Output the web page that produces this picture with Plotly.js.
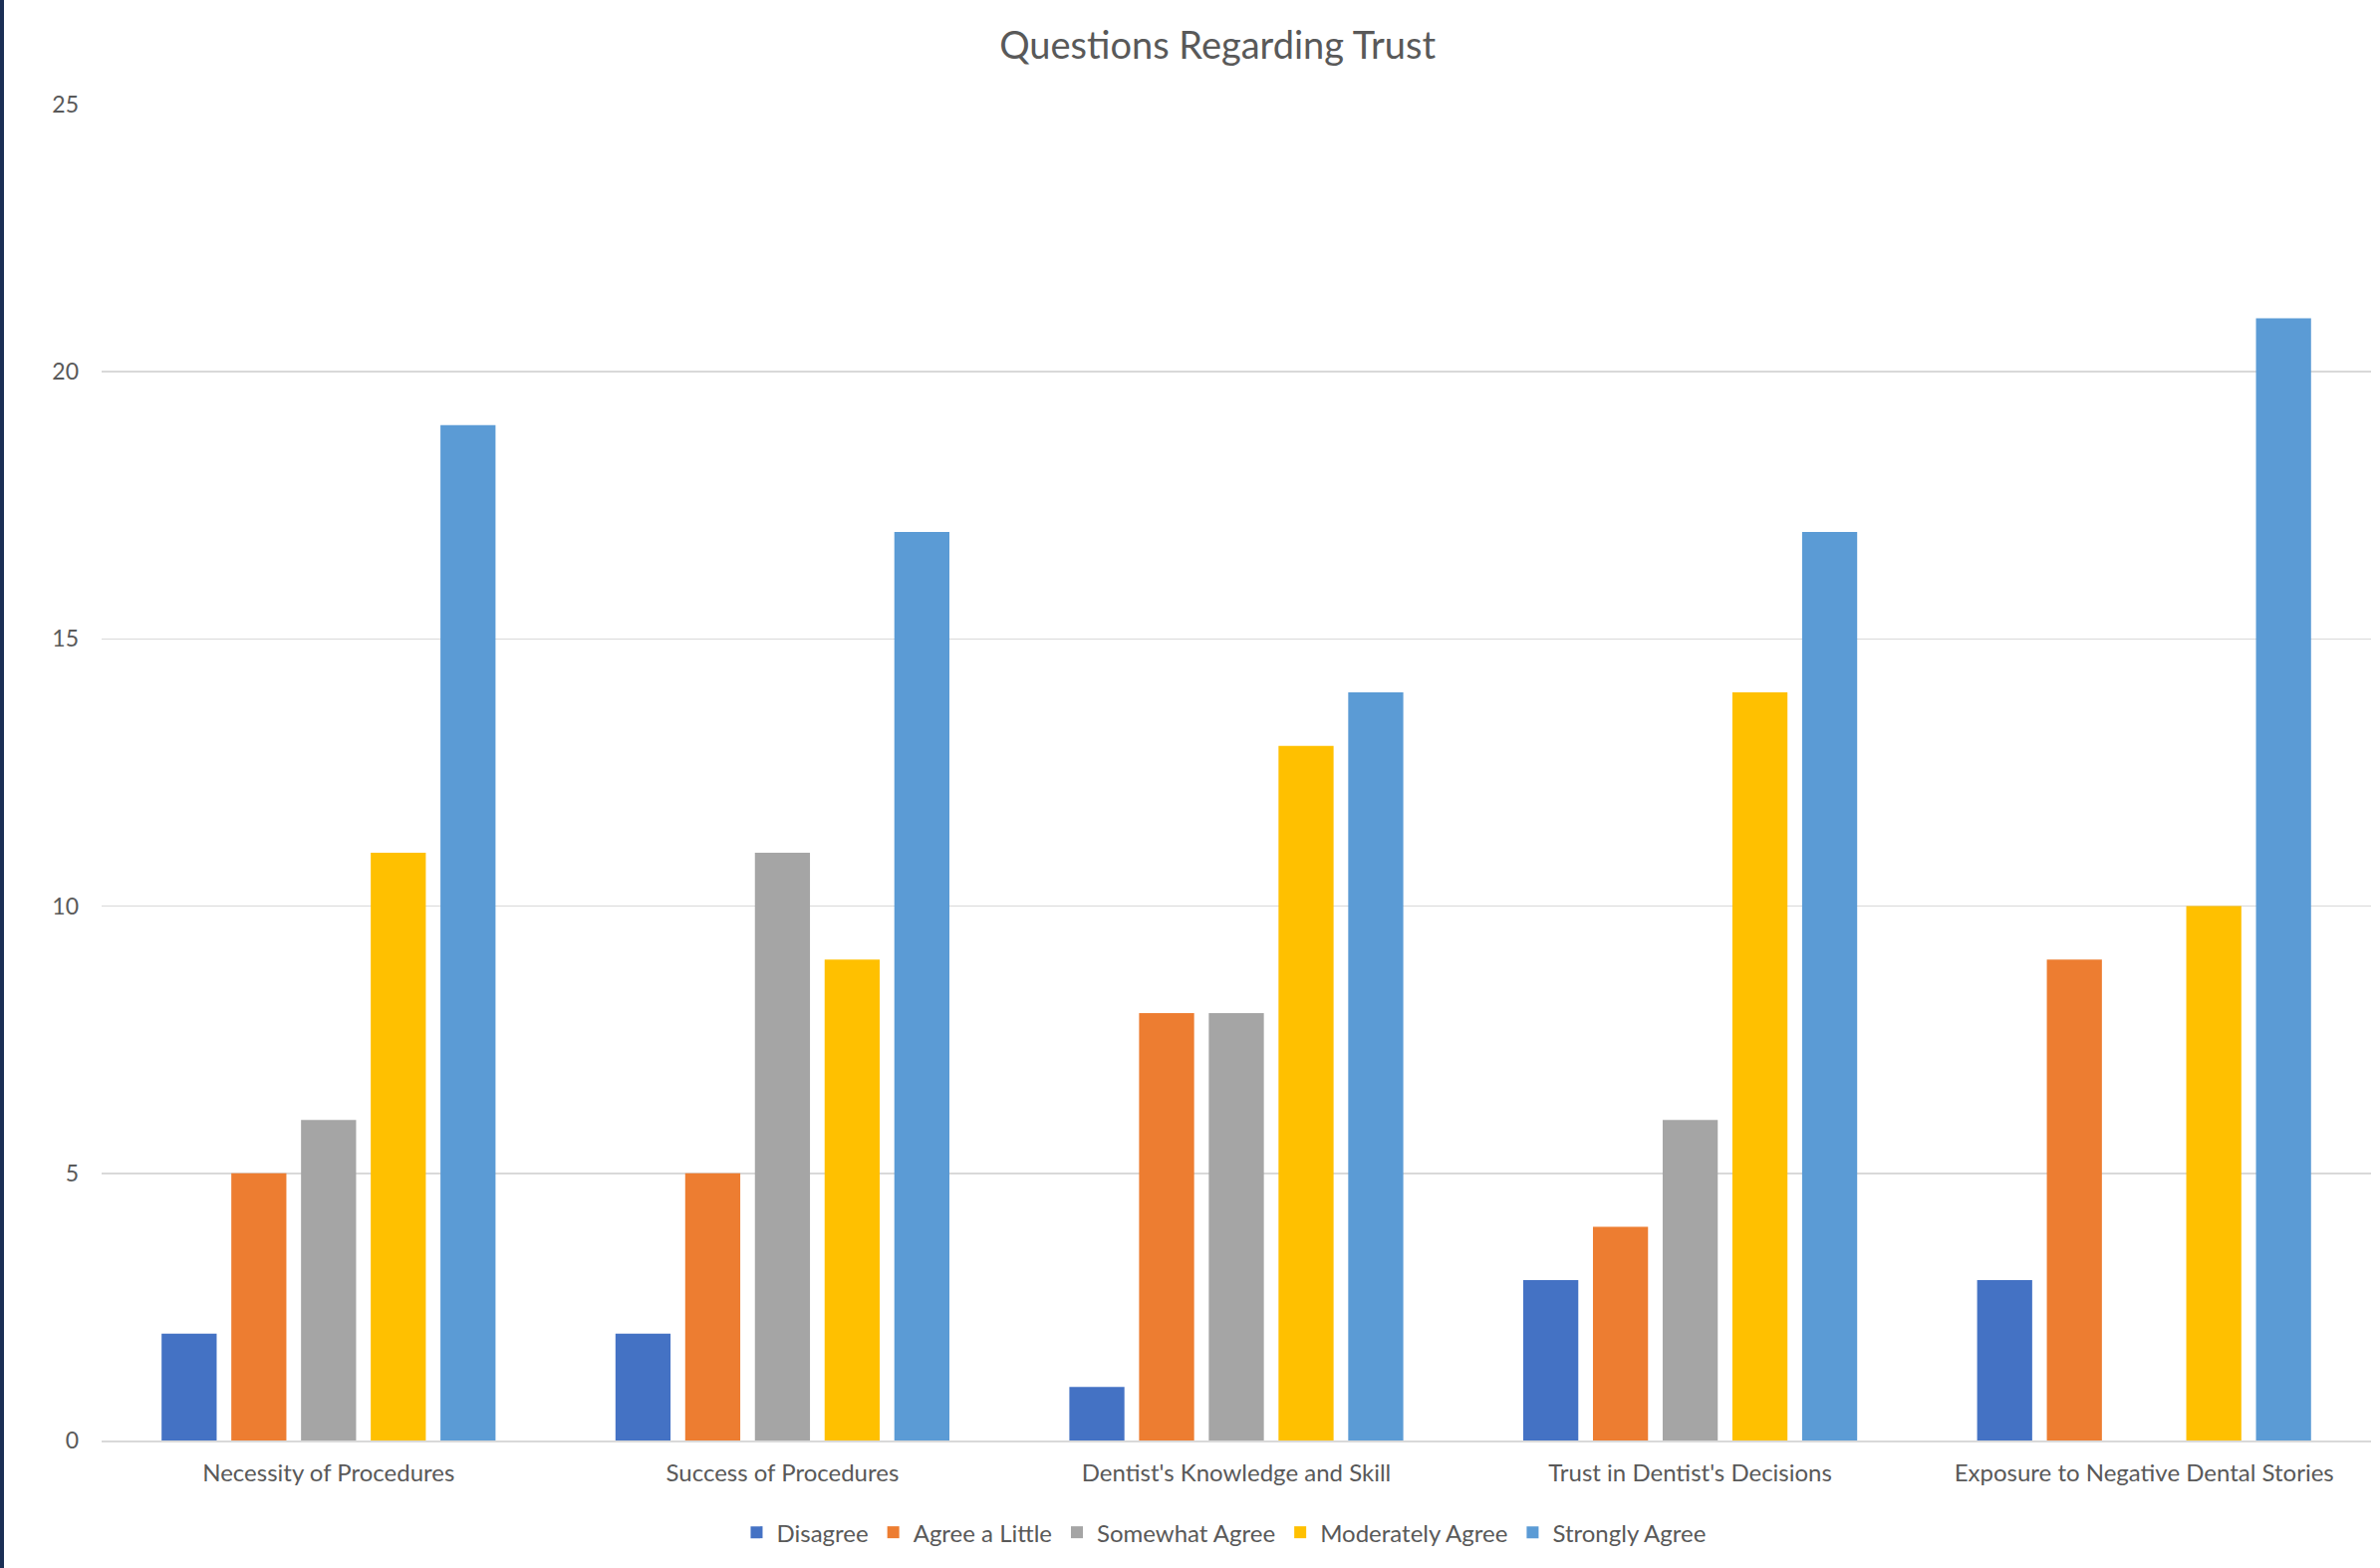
<!DOCTYPE html>
<html>
<head>
<meta charset="utf-8">
<script src="https://cdn.plot.ly/plotly-3.0.1.min.js"></script>
<style>
  html, body { margin: 0; padding: 0; background: #ffffff; overflow: hidden; }
  #wrap { position: relative; width: 2389px; height: 1574px; }
  #edge { position: absolute; left: 0; top: 0; width: 4px; height: 1574px; background: #1b2f55; z-index: 5; }
  #chart { position: absolute; left: 0; top: 0; width: 2389px; height: 1574px; }
</style>
</head>
<body>
<div id="wrap"><div id="edge"></div><div id="chart"></div></div>
<script>
const categories = [
  "Necessity of Procedures",
  "Success of Procedures",
  "Dentist's Knowledge and Skill",
  "Trust in Dentist's Decisions",
  "Exposure to Negative Dental Stories"
];
const seriesNames = ["Disagree", "Agree a Little", "Somewhat Agree", "Moderately Agree", "Strongly Agree"];
const disagree = [2, 2, 1, 3, 3];
const agreeALittle = [5, 5, 8, 4, 9];
const somewhatAgree = [6, 11, 8, 6, 0];
const moderatelyAgree = [11, 9, 13, 14, 10];
const stronglyAgree = [19, 17, 14, 17, 21];
const seriesColors = ["#4472C4", "#ED7D31", "#A5A5A5", "#FFC000", "#5B9BD5"];
const yTicks = [0, 5, 10, 15, 20, 25];

const values = [disagree, agreeALittle, somewhatAgree, moderatelyAgree, stronglyAgree];
const traces = seriesNames.map((name, i) => ({
  type: 'bar',
  name: name,
  x: categories,
  y: values[i],
  marker: { color: seriesColors[i], line: { width: 0 } },
  hoverinfo: 'x+y+name'
}));

const fontFam = 'Lato, "Open Sans", sans-serif';
const layout = {
  width: 2389,
  height: 1574,
  paper_bgcolor: '#ffffff',
  plot_bgcolor: '#ffffff',
  margin: { l: 102, r: 9, t: 105, b: 128, pad: 0 },
  barmode: 'group',
  bargap: 0.232,
  bargroupgap: 0.21,
  font: { family: fontFam, color: '#595959' },
  title: {
    text: 'Questions Regarding Trust',
    font: { family: fontFam, size: 38, color: '#595959' },
    xref: 'paper', x: 0.4917, xanchor: 'center',
    yref: 'container', y: 1 - 46 / 1574, yanchor: 'middle'
  },
  xaxis: {
    type: 'category',
    showgrid: false,
    showline: true,
    linecolor: '#d9d9d9',
    linewidth: 2,
    ticks: '',
    tickfont: { family: fontFam, size: 24, color: '#595959' },
    ticklabelstandoff: 10,
    fixedrange: true
  },
  yaxis: {
    range: [0, 25],
    tickvals: yTicks,
    ticktext: yTicks.map(String),
    showgrid: true,
    gridcolor: '#d9d9d9',
    gridwidth: 1.5,
    zeroline: false,
    showline: false,
    ticks: '',
    tickfont: { family: fontFam, size: 23, color: '#595959' },
    ticklabelstandoff: 22,
    fixedrange: true
  },
  showlegend: true,
  legend: {
    orientation: 'h',
    x: 0.4945, xanchor: 'center',
    y: -0.069, yanchor: 'middle',
    font: { family: fontFam, size: 24, color: '#595959' },
    itemwidth: 30,
    traceorder: 'normal',
    bgcolor: 'rgba(0,0,0,0)'
  }
};

Plotly.newPlot('chart', traces, layout, { displayModeBar: false, staticPlot: true });
</script>
</body>
</html>
